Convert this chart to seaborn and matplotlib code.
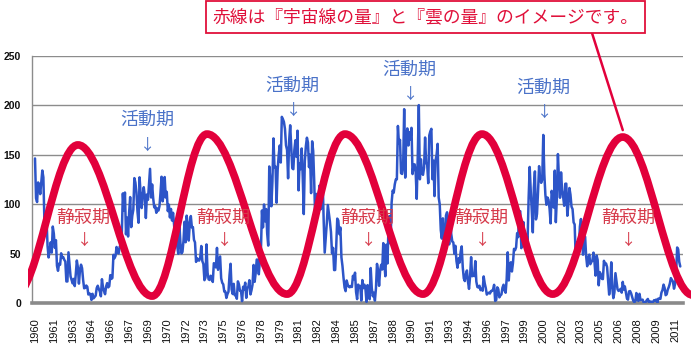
import numpy as np
import matplotlib
matplotlib.use("Agg")
import matplotlib.pyplot as plt
import seaborn as sns
from matplotlib.path import Path
from matplotlib.patches import PathPatch, Rectangle

# ---------------- data ----------------
start_year = 1960
ss_1960s = [146.3, 106.0, 102.2, 122.0, 119.6, 110.2, 121.7, 134.1, 127.2, 82.8, 89.6, 85.6,
            57.9, 46.1, 53.0, 61.4, 51.0, 77.4, 70.2, 55.8, 63.6, 37.7, 32.6, 39.9,
            38.7, 50.3, 45.6, 46.4, 43.7, 42.0, 21.8, 21.8, 51.3, 39.5, 26.9, 23.2,
            19.8, 24.4, 17.1, 29.3, 43.0, 35.9, 19.6, 33.2, 38.8, 35.3, 23.4, 14.9,
            15.3, 17.7, 16.5, 8.6, 9.5, 9.1, 3.1, 9.3, 4.7, 6.1, 7.4, 15.1,
            17.5, 14.2, 11.7, 6.8, 24.1, 15.9, 11.9, 8.9, 16.8, 20.1, 15.8, 17.0,
            28.2, 24.4, 25.3, 48.7, 45.3, 47.7, 56.7, 51.2, 50.2, 57.2, 57.2, 70.4,
            110.9, 93.6, 111.8, 69.5, 86.5, 67.3, 91.5, 107.2, 76.8, 88.2, 94.3, 126.4,
            121.8, 111.9, 92.2, 81.2, 127.2, 110.3, 96.1, 109.3, 117.2, 107.7, 86.0, 109.8,
            104.4, 120.5, 135.8, 106.8, 120.0, 106.0, 96.8, 98.0, 91.3, 95.7, 93.5, 97.9]
ss_1970s = [111.5, 127.8, 102.9, 109.5, 127.5, 106.8, 112.5, 93.0, 99.5, 86.6, 95.2, 83.5,
            91.3, 79.0, 60.7, 71.8, 57.5, 49.8, 81.0, 61.4, 50.2, 51.7, 63.2, 82.2,
            61.5, 88.4, 80.1, 63.2, 80.5, 88.0, 76.5, 76.8, 64.0, 61.3, 41.6, 45.3,
            43.4, 42.9, 46.0, 57.7, 42.4, 39.5, 23.1, 25.6, 59.3, 30.7, 23.9, 23.3,
            27.6, 26.0, 21.3, 40.3, 39.5, 36.0, 55.8, 33.6, 40.2, 47.1, 25.0, 20.5,
            18.9, 11.5, 11.5, 5.1, 9.0, 11.4, 28.2, 39.7, 13.9, 9.1, 19.4, 7.8,
            8.1, 4.3, 21.9, 18.8, 12.4, 12.2, 1.9, 16.4, 13.5, 20.6, 5.2, 15.3,
            16.4, 23.1, 8.7, 12.9, 18.6, 38.5, 21.4, 30.1, 44.0, 43.8, 29.1, 43.2,
            51.9, 93.6, 76.5, 99.7, 82.7, 95.1, 70.4, 58.1, 138.2, 125.1, 97.9, 122.7,
            166.6, 137.5, 138.0, 101.5, 134.4, 149.5, 159.4, 142.2, 188.4, 186.2, 183.3, 176.3]
ss_1980s = [159.6, 155.0, 126.2, 164.1, 179.9, 157.3, 136.3, 135.4, 155.0, 164.7, 147.9, 174.4,
            114.0, 141.3, 135.5, 156.4, 127.5, 90.0, 143.8, 158.7, 167.3, 162.4, 137.5, 150.1,
            111.2, 163.6, 153.8, 122.0, 82.2, 110.4, 106.1, 107.6, 118.8, 94.7, 98.1, 127.0,
            84.3, 51.0, 66.5, 80.7, 99.2, 91.1, 82.2, 71.8, 50.3, 55.8, 33.3, 33.4,
            57.0, 85.4, 83.5, 69.7, 76.4, 46.1, 37.4, 25.5, 15.7, 12.0, 22.8, 18.7,
            16.5, 15.9, 17.2, 16.2, 27.5, 24.2, 30.7, 11.1, 3.9, 18.6, 16.2, 17.3,
            2.5, 23.2, 15.1, 18.5, 13.7, 1.1, 18.1, 7.4, 3.8, 35.4, 15.2, 6.8,
            10.4, 2.4, 14.7, 39.6, 33.0, 17.4, 33.0, 38.7, 33.9, 60.6, 39.9, 27.1,
            59.0, 40.0, 76.2, 88.0, 60.1, 101.8, 113.8, 111.6, 120.1, 125.1, 125.1, 179.2,
            161.3, 165.1, 131.4, 130.6, 138.5, 196.2, 126.9, 168.9, 176.7, 159.4, 173.0, 165.5]
ss_1990s = [177.3, 130.5, 140.3, 140.3, 132.2, 105.4, 149.4, 200.3, 125.2, 145.5, 131.4, 129.7,
            136.9, 167.5, 141.9, 140.0, 121.3, 169.7, 173.7, 176.3, 125.3, 144.1, 108.2, 144.4,
            150.0, 161.1, 106.7, 99.8, 73.8, 65.2, 85.7, 64.5, 63.9, 88.7, 91.8, 82.6,
            59.3, 91.0, 69.8, 62.2, 61.3, 49.8, 57.9, 42.4, 35.7, 45.2, 41.0, 51.7,
            57.3, 36.2, 25.0, 22.2, 29.3, 32.9, 21.8, 14.3, 26.6, 46.4, 27.1, 29.0,
            27.2, 42.4, 21.6, 16.2, 15.7, 17.5, 13.0, 14.3, 12.4, 26.9, 19.9, 15.2,
            8.5, 10.0, 10.4, 9.6, 12.1, 12.2, 13.8, 18.4, 2.1, 2.9, 15.9, 14.0,
            5.7, 7.6, 8.7, 15.5, 18.5, 12.7, 10.4, 24.4, 51.3, 22.8, 39.0, 41.2,
            31.9, 40.3, 54.8, 53.4, 56.3, 70.7, 66.6, 92.2, 92.9, 55.5, 74.0, 81.9,
            62.0, 66.3, 68.8, 63.7, 106.4, 137.7, 113.5, 93.7, 71.5, 116.7, 133.2, 84.6]
ss_2000s = [90.1, 112.9, 138.5, 125.5, 121.6, 124.9, 170.1, 130.5, 109.7, 99.4, 106.8, 104.4,
            95.6, 80.6, 113.5, 107.7, 96.6, 134.0, 81.8, 106.4, 150.7, 125.5, 106.5, 132.2,
            114.1, 107.4, 98.4, 120.7, 120.8, 88.3, 99.6, 116.4, 109.6, 97.5, 95.0, 81.6,
            79.5, 46.2, 61.5, 60.0, 55.2, 77.4, 85.0, 72.1, 48.9, 65.6, 67.2, 47.0,
            37.2, 46.0, 48.9, 39.3, 41.5, 43.2, 51.0, 40.9, 27.7, 48.0, 43.5, 17.9,
            31.3, 29.2, 24.5, 24.2, 42.7, 39.3, 40.0, 36.4, 22.1, 8.5, 18.0, 41.2,
            15.3, 4.9, 10.6, 30.2, 22.3, 13.9, 12.2, 12.9, 14.4, 10.5, 21.4, 13.6,
            16.8, 10.7, 4.5, 3.4, 11.7, 12.1, 9.7, 6.0, 2.4, 0.9, 1.7, 10.1,
            3.3, 2.1, 9.3, 2.9, 3.2, 3.4, 0.5, 0.5, 1.1, 2.9, 4.1, 0.8,
            1.5, 1.4, 0.7, 1.2, 2.9, 2.6, 3.5, 0.0, 4.4, 4.6, 4.2, 10.6]
ss_2010s = [13.1, 18.6, 15.4, 7.9, 8.8, 13.5, 16.1, 19.6, 25.2, 23.5, 21.6, 14.5,
            19.0, 29.4, 56.2, 54.4, 41.6, 37.0]
sunspots = ss_1960s + ss_1970s + ss_1980s + ss_1990s + ss_2000s + ss_2010s
months = np.arange(len(sunspots))

tick_months = list(range(0, 613, 18))
tick_labels = [str(start_year + m // 12) for m in tick_months]
y_ticks = [0, 50, 100, 150, 200, 250]

# red "cosmic ray / cloud" image curve: turning points (month index, value)
red_x = [-19, 41, 112, 164.5, 241, 296.4, 371, 427.4, 495, 562, 629]
red_y = [8, 160, 7, 171, 9, 171, 9, 171, 9, 168, 8]

active_label = "活動期"
quiet_label = "静寂期"
callout_text = "赤線は『宇宙線の量』と『雲の量』のイメージです。"

# ---------------- style ----------------
sns.set_style("white")
plt.rcParams['font.family'] = ['Noto Sans CJK JP', 'DejaVu Sans']

W, H = 699, 355
fig = plt.figure(figsize=(W / 100, H / 100), dpi=100)
ax = fig.add_axes([32 / W, (H - 303) / H, (683 - 32) / W, (303 - 56) / H])

sns.lineplot(x=months, y=sunspots, color='#2d55c8', lw=1.8, ax=ax, zorder=3)

ax.set_xlim(-2.87, 619.6)
ax.set_ylim(0, 250)
ax.set_xlabel('')
ax.set_ylabel('')

ax.set_yticks(y_ticks)
ax.set_yticklabels([str(v) for v in y_ticks])
ax.set_xticks(tick_months)
ax.set_xticklabels(tick_labels, rotation=90)
ax.grid(axis='y', color='#8c8c8c', lw=1)
ax.grid(axis='x', visible=False)
ax.set_axisbelow(True)

for s in ['top', 'right']:
    ax.spines[s].set_visible(False)
ax.spines['left'].set_color('#8c8c8c')
ax.spines['left'].set_linewidth(1)
ax.spines['bottom'].set_color('#8a8a8a')
ax.spines['bottom'].set_linewidth(2.6)

ax.tick_params(axis='x', length=0, pad=11, labelsize=8, colors='#111111')
ax.tick_params(axis='y', length=3, width=1, color='#8c8c8c', pad=5, labelsize=7.5,
               labelcolor='#111111')
for lab in ax.get_xticklabels():
    lab.set_family(['Liberation Sans', 'DejaVu Sans'])
for lab in ax.get_yticklabels():
    lab.set_family(['Liberation Sans', 'DejaVu Sans'])
    lab.set_fontweight('bold')

# red curve as smooth bezier through turning points
verts = [(red_x[0], red_y[0])]
codes = [Path.MOVETO]
k = 0.36
for i in range(len(red_x) - 1):
    x0, y0, x1, y1 = red_x[i], red_y[i], red_x[i + 1], red_y[i + 1]
    d = x1 - x0
    verts += [(x0 + k * d, y0), (x1 - k * d, y1), (x1, y1)]
    codes += [Path.CURVE4] * 3
red_col = '#e2003b'
patch = PathPatch(Path(verts, codes), fill=False, edgecolor=red_col, lw=5.5,
                  transform=ax.transData, zorder=4, capstyle='butt')
ax.add_patch(patch)
clip = Rectangle((-6.7, -30), 633.7, 320, transform=ax.transData)
patch.set_clip_path(clip)

# annotations
blue_txt = '#4a72c8'
red_txt = '#d63a4a'
active_pos = [(107, 185), (246, 220), (358, 236), (486, 218)]
quiet_pos = [(46, 86), (180, 86), (317.5, 86), (427, 86), (567, 86)]
for (x, y) in active_pos:
    ax.text(x, y, active_label, color=blue_txt, fontsize=13, ha='center', va='center', zorder=6)
    ax.text(x + 1, y - 25, "↓", color=blue_txt, fontsize=11, ha='center', va='center', zorder=6)
for (x, y) in quiet_pos:
    ax.text(x, y, quiet_label, color=red_txt, fontsize=13, ha='center', va='center', zorder=6)
    ax.text(x + 1, y - 23, "↓", color=red_txt, fontsize=11, ha='center', va='center', zorder=6)

# callout
ax.annotate('', xy=(562, 175), xycoords='data', xytext=(592, H - 33),
            textcoords='figure pixels', annotation_clip=False,
            arrowprops=dict(arrowstyle='-', color=red_col, lw=1.8, shrinkA=0, shrinkB=0),
            zorder=7)
fig.text(425.5 / W, (H - 17) / H, callout_text, ha='center', va='center', fontsize=12.8,
         color='#e0103a',
         bbox=dict(boxstyle='square,pad=0.38', fc='white', ec='#e0103a', lw=1.3))

fig.savefig('out.png', dpi=100)
